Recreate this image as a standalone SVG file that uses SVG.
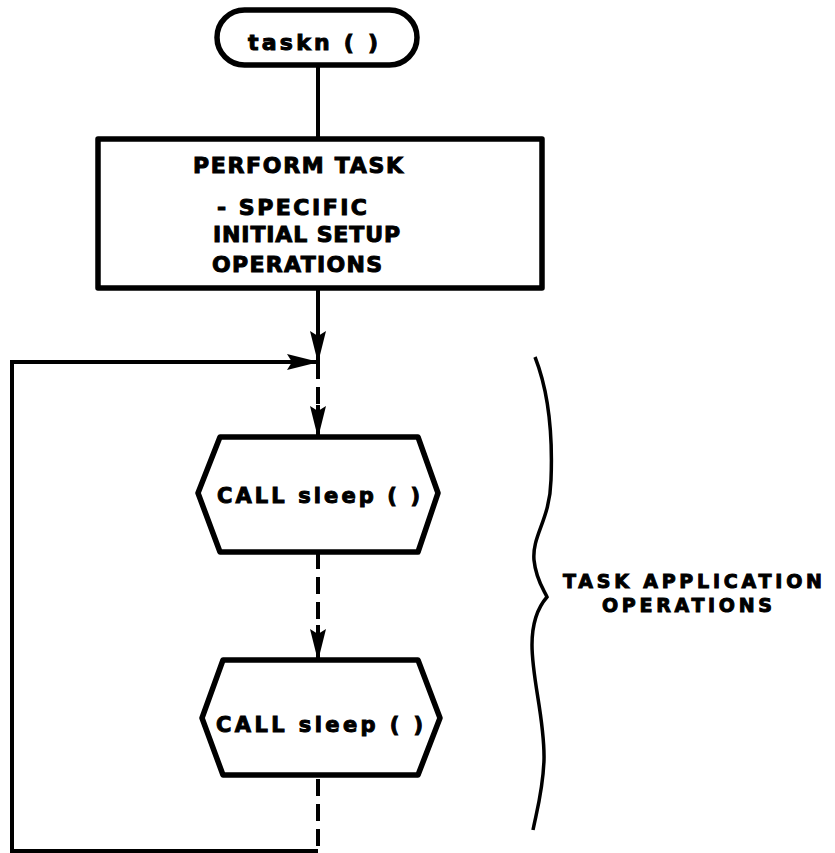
<svg xmlns="http://www.w3.org/2000/svg" width="835" height="853" viewBox="0 0 835 853">
<style>
.shape{fill:#fff;stroke:#000;stroke-width:5.5;stroke-linejoin:round}
.conn{fill:none;stroke:#000;stroke-width:4}
.dash{stroke-dasharray:17 8}
.t{font-family:"DejaVu Sans","Liberation Sans",Arial,sans-serif;font-weight:bold;fill:#000;stroke:#000;stroke-width:1}
</style>
<defs>
<marker id="ah" markerUnits="userSpaceOnUse" markerWidth="32" markerHeight="16" refX="31" refY="8" orient="auto" viewBox="0 0 32 16">
<path d="M0,0 L5,8 L0,16 L32,8 Z" fill="#000"/>
</marker>
</defs>
<rect width="835" height="853" fill="#fff"/>
<g id="connectors">
<line class="conn" x1="318" y1="65" x2="318" y2="139"/>
<line class="conn" x1="318" y1="288" x2="318" y2="362" marker-end="url(#ah)"/>
<polyline class="conn" points="318,851 12,851 12,362 318,362" marker-end="url(#ah)"/>
<line class="conn dash" x1="318" y1="362" x2="318" y2="405"/>
<line class="conn" x1="318" y1="405" x2="318" y2="437" marker-end="url(#ah)"/>
<line class="conn dash" x1="318" y1="552" x2="318" y2="625"/>
<line class="conn" x1="318" y1="625" x2="318" y2="660" marker-end="url(#ah)"/>
<line class="conn dash" x1="318" y1="775" x2="318" y2="851" stroke-dashoffset="-4"/>
</g>
<g id="start">
<rect class="shape" x="217" y="10" width="200" height="55" rx="27.5"/>
<text class="t" x="248" y="50" font-size="22" textLength="130" lengthAdjust="spacing">taskn (  )</text>
</g>
<g id="setup">
<rect class="shape" x="98" y="139" width="444" height="149"/>
<text class="t" x="193" y="173" font-size="22" textLength="210" lengthAdjust="spacing">PERFORM TASK</text>
<text class="t" x="217" y="215" font-size="22" textLength="150" lengthAdjust="spacing">- SPECIFIC</text>
<text class="t" x="213" y="242" font-size="22" textLength="187" lengthAdjust="spacing">INITIAL SETUP</text>
<text class="t" x="212" y="272" font-size="22" textLength="170" lengthAdjust="spacing">OPERATIONS</text>
</g>
<g id="sleep1">
<polygon class="shape" points="198,493 220,437 418,437 438,493 418,552 220,552"/>
<text class="t" x="217" y="503" font-size="21" textLength="203" lengthAdjust="spacing">CALL sleep (  )</text>
</g>
<g id="sleep2">
<polygon class="shape" points="202,718 223,660 418,660 440,718 418,775 223,775"/>
<text class="t" x="216" y="732" font-size="21" textLength="207" lengthAdjust="spacing">CALL sleep (  )</text>
</g>
<g id="brace">
<path d="M535,357 C548,390 553,430 551,480 C550,520 532,535 534,560 C536,580 544,590 547,597 C540,605 532,620 532,645 C532,680 545,720 544,760 C543,790 537,810 533,830" fill="none" stroke="#000" stroke-width="3.5"/>
<text class="t" x="563" y="588" font-size="19" textLength="259" lengthAdjust="spacing">TASK APPLICATION</text>
<text class="t" x="602" y="612" font-size="19" textLength="170" lengthAdjust="spacing">OPERATIONS</text>
</g>
</svg>
